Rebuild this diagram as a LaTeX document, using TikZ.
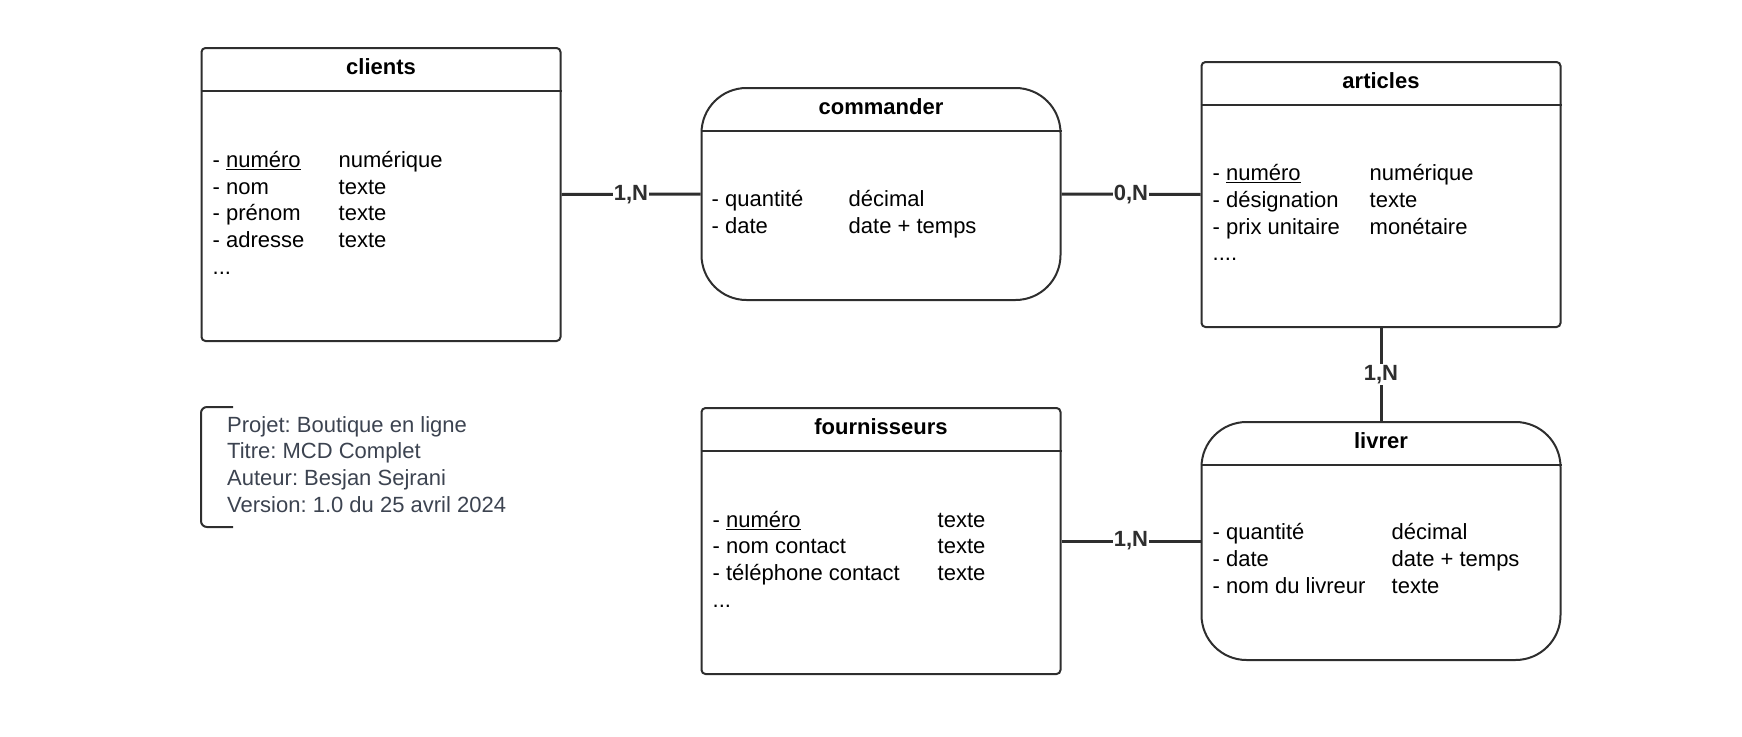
\documentclass[tikz,border=0pt]{standalone}
\usepackage{fontspec}
\setmainfont{Liberation Sans}
\frenchspacing
\usetikzlibrary{positioning}
\definecolor{trait}{HTML}{2E2E2E}
\definecolor{gristexte}{HTML}{3C4350}

\tikzset{
  entite/.style={draw=trait, line width=2pt, rounded corners=4pt,
    minimum width=359pt, anchor=north west, inner sep=0pt},
  relation/.style={entite, rounded corners=45pt},
  entete/.style={draw=trait, line width=2pt},
  titre/.style={font=\fontsize{22}{26.7}\selectfont\bfseries, inner sep=0pt},
  attributs/.style={font=\fontsize{22}{26.7}\selectfont, anchor=west,
    inner sep=0pt, align=left},
  lien/.style={draw=trait, line width=3pt},
  card/.style={font=\fontsize{22}{26.7}\selectfont\bfseries, text=trait,
    fill=white, inner sep=1pt}
}

\begin{document}
\begin{tikzpicture}[x=1pt,y=-1pt]
  \useasboundingbox (0,0) rectangle (1742,736);

  % entites et associations
  \node[entite, minimum height=293pt] (clients) at (200.5,47) {};
  \node[relation, minimum height=212pt] (commander) at (700.5,87) {};
  \node[entite, minimum height=265pt] (articles) at (1200.5,61) {};
  \node[entite, minimum height=266pt] (fournisseurs) at (700.5,407) {};
  \node[relation, minimum height=238pt] (livrer) at (1200.5,421) {};

  % en-tetes
  \foreach \e in {clients,commander,articles,fournisseurs,livrer}
    \draw[entete] ([yshift=-44pt]\e.north west) -- ([yshift=-44pt]\e.north east);

  \node[titre] (clients-titre) at ([yshift=-20pt]clients.north) {clients};
  \node[titre] (commander-titre) at ([yshift=-20pt]commander.north) {commander};
  \node[titre] (articles-titre) at ([yshift=-20pt]articles.north) {articles};
  \node[titre] (fournisseurs-titre) at ([yshift=-20pt]fournisseurs.north) {fournisseurs};
  \node[titre] (livrer-titre) at ([yshift=-20pt]livrer.north) {livrer};

  % attributs
  \node[attributs] (clients-attr) at ([xshift=12pt,yshift=-21pt]clients.west)
    {\begin{tabular}{@{}p{126pt}@{}l@{}}
      - \underline{numéro} & numérique\\
      - nom & texte\\
      - prénom & texte\\
      - adresse & texte\\
      ... &
    \end{tabular}};
  \node[attributs] (commander-attr) at ([xshift=11pt,yshift=-21pt]commander.west)
    {\begin{tabular}{@{}p{137pt}@{}l@{}}
      - quantité & décimal\\
      - date & date + temps
    \end{tabular}};
  \node[attributs] (articles-attr) at ([xshift=12pt,yshift=-21pt]articles.west)
    {\begin{tabular}{@{}p{157pt}@{}l@{}}
      - \underline{numéro} & numérique\\
      - désignation & texte\\
      - prix unitaire & monétaire\\
      .... &
    \end{tabular}};
  \node[attributs] (fournisseurs-attr) at ([xshift=12pt,yshift=-21pt]fournisseurs.west)
    {\begin{tabular}{@{}p{225pt}@{}l@{}}
      - \underline{numéro} & texte\\
      - nom contact & texte\\
      - téléphone contact & texte\\
      ... &
    \end{tabular}};
  \node[attributs] (livrer-attr) at ([xshift=12pt,yshift=-20pt]livrer.west)
    {\begin{tabular}{@{}p{179pt}@{}l@{}}
      - quantité & décimal\\
      - date & date + temps\\
      - nom du livreur & texte
    \end{tabular}};

  % liens
  \draw[lien] (clients.east) -- node[card] {1,N} (commander.west);
  \draw[lien] (commander.east) -- node[card] {0,N} (articles.west);
  \draw[lien] (articles.south) -- node[card] {1,N} (livrer.north);
  \draw[lien] (fournisseurs.east) -- node[card] {1,N} (livrer.west);

  % cartouche
  \node[anchor=north west, inner sep=0pt, align=left, text=gristexte,
    font=\fontsize{22}{26.7}\selectfont] (projet) at (227,416)
    {Projet: Boutique en ligne\\
     Titre: MCD Complet\\
     Auteur: Besjan Sejrani\\
     Version: 1.0 du 25 avril 2024};
  \draw[trait, line width=2pt, rounded corners=6pt]
    (233,407) -- (201,407) -- (201,527) -- (233,527);
\end{tikzpicture}
\end{document}
